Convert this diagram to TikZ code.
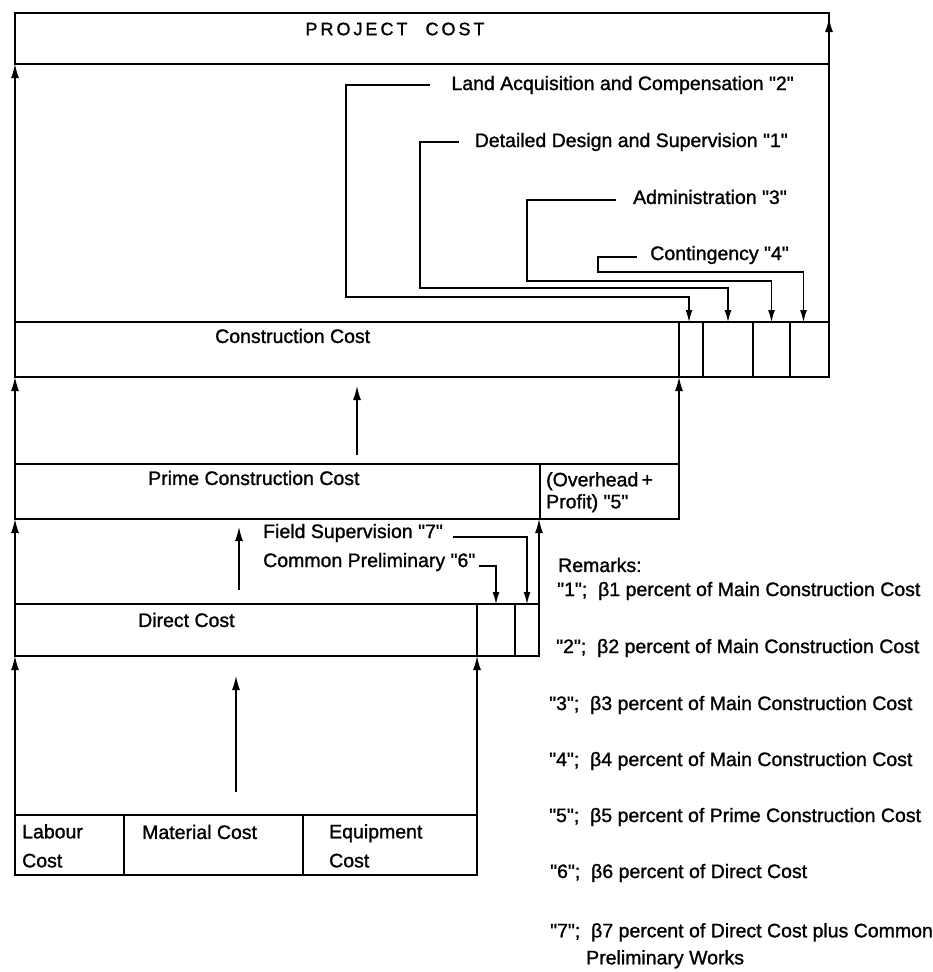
\documentclass[tikz,border=0pt]{standalone}
\usepackage{fontspec}
\setmainfont{Liberation Sans}
\newfontfamily\lsans{Liberation Sans}[FakeBold=1.2]
\usetikzlibrary{arrows.meta,calc}
\newcommand\fs{\fontsize{19.5}{22}\selectfont}
\begin{document}
\lsans
\begin{tikzpicture}[x=1pt,y=-1pt,
  box/.style={draw, line width=1.3pt, rectangle, inner sep=0pt, outer sep=0pt, anchor=north west},
  lbl/.style={font=\fs, inner sep=0pt, anchor=west},
  rlbl/.style={font=\fs, inner sep=0pt, anchor=east},
  arr/.style={line width=1.3pt, -{Latex[length=14pt,width=8pt]}},
  brk/.style={line width=1.2pt, -{Latex[length=12pt,width=7pt]}}]
\fill[white] (0,0) rectangle (933,972);
\useasboundingbox (0,0) rectangle (933,972);

% Project cost
\node[box, minimum width=814pt, minimum height=51pt] (project) at (15,13) {};
\node[font=\fontsize{18}{20}\selectfont, inner sep=0pt] (title) at (395,29)
  {P\,R\,O\,J\,E\,C\,T\quad C\,O\,S\,T};

% Construction cost row
\node[box, minimum width=664pt, minimum height=55pt] (cc) at (15,322) {};
\node[box, minimum width=24pt, minimum height=55pt] (s1) at (679,322) {};
\node[box, minimum width=50pt, minimum height=55pt] (s2) at (703,322) {};
\node[box, minimum width=37pt, minimum height=55pt] (s3) at (753,322) {};
\node[box, minimum width=39pt, minimum height=55pt] (s4) at (790,322) {};
\node[lbl] (cct) at (215,336) {Construction Cost};

% Prime construction row
\node[box, minimum width=525pt, minimum height=55pt] (pc) at (15,464) {};
\node[box, minimum width=139pt, minimum height=55pt] (oh) at (540,464) {};
\node[lbl] (pct) at (148,478) {Prime Construction Cost};
\node[font=\fontsize{19.5}{22}\selectfont, inner sep=0pt, anchor=north west, align=left] (oht) at (546,472)
  {(Overhead\,+\\Profit) "5"};

% Direct cost row
\node[box, minimum width=462pt, minimum height=52pt] (dc) at (15,604) {};
\node[box, minimum width=38pt, minimum height=52pt] (d1) at (477,604) {};
\node[box, minimum width=24pt, minimum height=52pt] (d2) at (515,604) {};
\node[lbl] (dct) at (138,620) {Direct Cost};

% Bottom row
\node[box, minimum width=109pt, minimum height=60pt] (lab) at (15,815) {};
\node[box, minimum width=179pt, minimum height=60pt] (mat) at (124,815) {};
\node[box, minimum width=174pt, minimum height=60pt] (eq) at (303,815) {};
\node[font=\fontsize{19.5}{29}\selectfont, inner sep=0pt, anchor=north west, align=left] (labt) at (22,824) {Labour\\Cost};
\node[lbl] (matt) at (142,832) {Material Cost};
\node[font=\fontsize{19.5}{29}\selectfont, inner sep=0pt, anchor=north west, align=left] (eqt) at (329,824) {Equipment\\Cost};

% left-side arrows
\draw[arr] (lab.north west) -- (dc.south west);
\draw[arr] (dc.north west) -- (pc.south west);
\draw[arr] (pc.north west) -- (cc.south west);
\draw[arr] (cc.north west) -- (project.south west);

% right-side arrows
\draw[arr] (eq.north east) -- (eq.north east |- dc.south);
\draw[arr] (d2.north east) -- (d2.north east |- oh.south);
\draw[arr] (oh.north east) -- (oh.north east |- cc.south);
\coordinate (ptip) at (829,18);
\draw[arr] (s4.north east) -- (ptip);

% central arrows
\coordinate (c1s) at (357,455); \coordinate (c1e) at (357,386);
\coordinate (c2s) at (239,590); \coordinate (c2e) at (239,527);
\coordinate (c3s) at (236,792); \coordinate (c3e) at (236,676);
\draw[arr] (c1s) -- (c1e);
\draw[arr] (c2s) -- (c2e);
\draw[arr] (c3s) -- (c3e);

% bracket labels
\node[rlbl] (land) at (794,85) {Land Acquisition and Compensation "2"};
\node[rlbl] (design) at (788,142) {Detailed Design and Supervision "1"};
\node[rlbl] (admin) at (787,197) {Administration "3"};
\node[rlbl] (cont) at (789,255) {Contingency "4"};
\draw[brk] ($(land.west)+(-21,0)$) -| (346,297) -| ([xshift=-2pt]s1.north);
\draw[brk] ($(design.west)+(-16,0)$) -| (420,288) -| (s2.north);
\draw[brk] ($(admin.west)+(-17,3)$) -| (527,281) -| (s3.north);
\draw[brk] ($(cont.west)+(-13,2)$) -| (598,272) -| ([xshift=-6pt]s4.north);

\node[lbl] (field) at (263,533) {Field Supervision "7"};
\node[lbl] (common) at (263,562) {Common Preliminary "6"};
\draw[brk] ($(field.east)+(10,4)$) -| (d2.north);
\draw[brk] ($(common.east)+(3,4)$) -| (d1.north);

% remarks
\node[lbl] (rem) at (558,565) {Remarks:};
\node[lbl] (r1) at (557,591) {"1";\ \ β1 percent of Main Construction Cost};
\node[lbl] (r2) at (556,648) {"2";\ \ β2 percent of Main Construction Cost};
\node[lbl] (r3) at (549,705) {"3";\ \ β3 percent of Main Construction Cost};
\node[lbl] (r4) at (549,761) {"4";\ \ β4 percent of Main Construction Cost};
\node[lbl] (r5) at (549,817) {"5";\ \ β5 percent of Prime Construction Cost};
\node[lbl] (r6) at (550,873) {"6";\ \ β6 percent of Direct Cost};
\node[font=\fontsize{19.5}{27}\selectfont, inner sep=0pt, anchor=north west, align=left] (r7) at (550,923)
  {"7";\ \ β7 percent of Direct Cost plus Common\\\hspace*{36pt}Preliminary Works};
\end{tikzpicture}
\end{document}
